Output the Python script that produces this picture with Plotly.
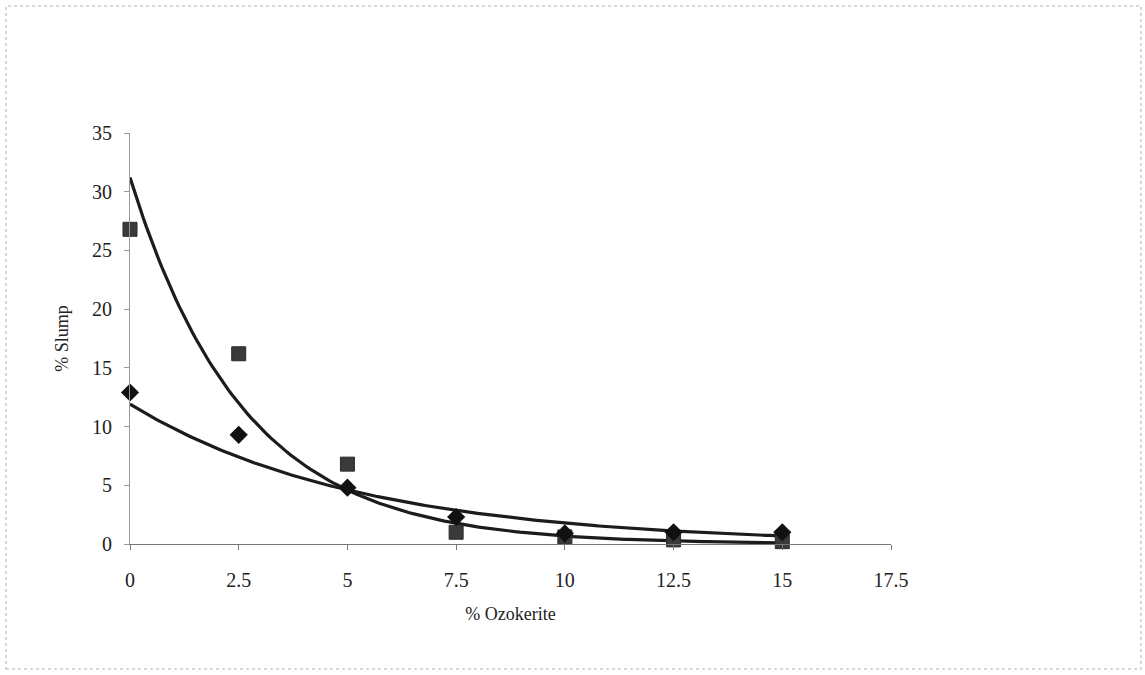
import numpy as np
import plotly.graph_objects as go

# Ozokerite content (%)
ozokerite = [0, 2.5, 5, 7.5, 10, 12.5, 15]

# Measured slump (%) for the two formulations
slump_square = [26.8, 16.2, 6.8, 1.0, 0.6, 0.35, 0.2]
slump_diamond = [12.9, 9.3, 4.8, 2.3, 0.9, 1.0, 1.0]

# Exponential trendline coefficients, y = a * exp(-b * x)
trend_square = (31.2, 0.383)
trend_diamond = (11.9, 0.19)

x_ticks = [0, 2.5, 5, 7.5, 10, 12.5, 15, 17.5]
y_ticks = [0, 5, 10, 15, 20, 25, 30, 35]

FONT = "Liberation Serif, Times New Roman, serif"

fig = go.Figure()

xs = np.linspace(0, 15, 200)
for (a, b) in (trend_square, trend_diamond):
    fig.add_trace(go.Scatter(
        x=xs, y=a * np.exp(-b * xs), mode="lines",
        line=dict(color="#1c1c1c", width=3.2), hoverinfo="skip",
        showlegend=False, cliponaxis=False,
    ))

fig.add_trace(go.Scatter(
    x=ozokerite, y=slump_square, mode="markers", showlegend=False,
    cliponaxis=False,
    marker=dict(symbol="square", size=14, color="#3a3a3a",
                line=dict(color="#2a2a2a", width=1)),
))
fig.add_trace(go.Scatter(
    x=ozokerite, y=slump_diamond, mode="markers", showlegend=False,
    cliponaxis=False,
    marker=dict(symbol="diamond", size=14, color="#111111"),
))

# plot-area geometry in pixels
W, H = 1145, 675
L, R, T, B = 130, 254, 133, 131
pw, ph = W - L - R, H - T - B

def px(xp):
    return (xp - L) / pw

def py(yp):
    return (H - B - yp) / ph

# thin dashed frame around the whole chart
fig.add_shape(type="rect", xref="paper", yref="paper",
              x0=px(6), x1=px(1141), y0=py(669), y1=py(6),
              line=dict(color="#b0b0b0", width=1, dash="dot"),
              layer="below")

fig.update_layout(
    width=W, height=H,
    margin=dict(l=L, r=R, t=T, b=B),
    paper_bgcolor="white", plot_bgcolor="white",
    font=dict(family=FONT, color="#222222", size=18),
    xaxis=dict(
        range=[0, 17.5], tickvals=x_ticks,
        ticktext=[f"{v:g}" for v in x_ticks],
        showgrid=False, zeroline=False,
        showline=True, linecolor="#777777", linewidth=1,
        ticks="outside", ticklen=5, tickcolor="#777777",
        tickfont=dict(size=20), ticklabelstandoff=13,
        title=dict(text="% Ozokerite", font=dict(size=18), standoff=17),
    ),
    yaxis=dict(
        range=[0, 35], tickvals=y_ticks,
        showgrid=False, zeroline=False,
        showline=True, linecolor="#999999", linewidth=1,
        ticks="outside", ticklen=5, tickcolor="#999999",
        tickfont=dict(size=20), ticklabelstandoff=8,
        title=dict(text="% Slump", font=dict(size=18), standoff=18),
    ),
)

fig.write_html("out.html")
